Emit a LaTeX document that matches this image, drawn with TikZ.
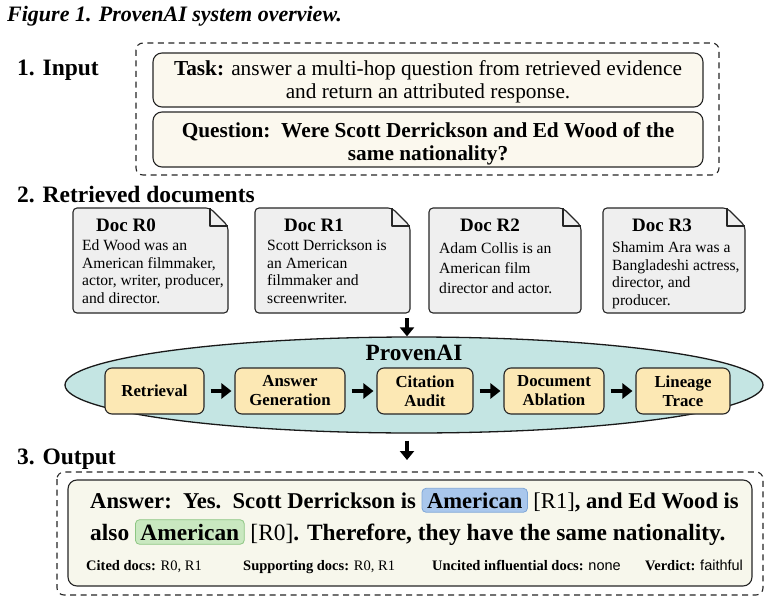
\documentclass[tikz,border=0pt]{standalone}
\usepackage{fontspec}
\setmainfont{Liberation Serif}
\newfontfamily\sansf{Liberation Sans}
\usetikzlibrary{shapes.geometric,arrows.meta}
\definecolor{creamA}{HTML}{FBF8EE}
\definecolor{docgray}{HTML}{EFEFEF}
\definecolor{ellfill}{HTML}{C4E5E3}
\definecolor{stageY}{HTML}{FCE8B4}
\definecolor{ansfill}{HTML}{F7F7EC}
\definecolor{hlbluefill}{HTML}{A9C7EC}
\definecolor{hlbluedraw}{HTML}{7FA7D8}
\definecolor{hlgreenfill}{HTML}{C9E8C0}
\definecolor{hlgreendraw}{HTML}{8DC683}
\newcommand\mydocshape[2]{%
  \draw[docsty] (#1,208) -- (#2-18,208) -- (#2,226) -- (#2,313) -- (#1,313) -- cycle;
  \draw[line width=1.1pt, black!85, line join=round] (#2-18,208) -- (#2-18,226) -- (#2,226);}
\begin{document}
\begin{tikzpicture}[x=1pt,y=-1pt,
  dashbox/.style={draw=black!85, line width=1.1pt, dash pattern=on 6pt off 4.5pt, rounded corners=7pt},
  inbox/.style={draw=black!85, line width=1.1pt, rounded corners=9pt, fill=creamA, inner sep=0pt},
  docsty/.style={draw=black!85, line width=1.1pt, fill=docgray, rounded corners=4pt},
  doctitle/.style={font=\bfseries\fontsize{19}{22}\selectfont, inner sep=0pt, anchor=base},
  doctext/.style={anchor=north west, inner sep=0pt, align=left, font=\fontsize{15.6}{17.7}\selectfont},
  stagebox/.style={draw=black!85, line width=1.1pt, rounded corners=7pt, fill=stageY, minimum height=46pt, inner sep=0pt, align=center, font=\bfseries\fontsize{16.8}{19}\selectfont},
  bigarrow/.style={-{Triangle[length=10pt,width=15pt]}, line width=4.5pt},
  heading/.style={anchor=base west, inner sep=0pt, font=\bfseries\fontsize{23.5}{26}\selectfont},
  bigtxt/.style={anchor=base, inner sep=0pt, font=\fontsize{21.3}{24}\selectfont},
  anstxt/.style={anchor=base west, inner sep=0pt, font=\bfseries\fontsize{22.6}{26}\selectfont},
  meta/.style={anchor=base west, inner sep=0pt, font=\fontsize{14.5}{17}\selectfont},
  hlblue/.style={fill=hlbluefill, draw=hlbluedraw, line width=0.8pt, rounded corners=4pt, inner xsep=5pt, inner ysep=4pt},
  hlgreen/.style={fill=hlgreenfill, draw=hlgreendraw, line width=0.8pt, rounded corners=4pt, inner xsep=5pt, inner ysep=4pt},
]
\useasboundingbox (0,0) rectangle (771,602);
\fill[white] (0,0) rectangle (771,602);

% title
\node[anchor=base west, inner sep=0pt, font=\bfseries\itshape\fontsize{22}{26}\selectfont] (title) at (7,22) {Figure 1. ProvenAI system overview.};

% 1. Input
\node[heading] (h1) at (17,75) {1. Input};
\draw[dashbox] (136,43) rectangle (719,175);
\node[inbox, minimum width=550pt, minimum height=54pt] (taskbox) at (428,80) {};
\node[bigtxt] (task1) at (428,75) {\textbf{Task:} answer a multi-hop question from retrieved evidence};
\node[bigtxt] (task2) at (428,98) {and return an attributed response.};
\node[inbox, minimum width=550pt, minimum height=55pt] (qbox) at (428,139.5) {};
\node[bigtxt, font=\bfseries\fontsize{21.3}{24}\selectfont] (q1) at (428,137) {Question:\ \ Were Scott Derrickson and Ed Wood of the};
\node[bigtxt, font=\bfseries\fontsize{21.3}{24}\selectfont] (q2) at (428,160) {same nationality?};

% 2. Retrieved documents
\node[heading] (h2) at (17,202) {2. Retrieved documents};
\mydocshape{73}{228}
\mydocshape{255}{410}
\mydocshape{429}{581}
\mydocshape{603}{745}
\node[doctitle] (t0) at (126,231) {Doc R0};
\node[doctitle] (t1) at (314,231) {Doc R1};
\node[doctitle] (t2) at (490,231) {Doc R2};
\node[doctitle] (t3) at (662,231) {Doc R3};
\node[doctext] (d0) at (82,239.5) {Ed Wood was an\\American filmmaker,\\actor, writer, producer,\\and director.};
\node[doctext] (d1) at (267,239.5) {Scott Derrickson is\\an American\\filmmaker and\\screenwriter.};
\node[doctext, font=\fontsize{15.6}{20}\selectfont] (d2) at (439,242.5) {Adam Collis is an\\American film\\director and actor.};
\node[doctext] (d3) at (612,241.5) {Shamim Ara was a\\Bangladeshi actress,\\director, and\\producer.};

% ProvenAI
\node[ellipse, draw=black!90, line width=1.3pt, fill=ellfill, minimum width=698pt, minimum height=96pt, inner sep=0pt] (ell) at (414,385) {};
\node[anchor=base, inner sep=0pt, font=\bfseries\fontsize{23.3}{26}\selectfont] (pai) at (414,360) {ProvenAI};
\coordinate (docsout) at (407,318);
\draw[bigarrow, -{Triangle[length=9pt,width=14pt]}, line width=3.5pt] (docsout) -- (docsout |- ell.north);

\node[stagebox, minimum width=99pt] (ret) at (154.5,391) {Retrieval};
\node[stagebox, minimum width=110pt] (gen) at (290,391) {Answer\\Generation};
\node[stagebox, minimum width=96pt] (cit) at (425,391) {Citation\\Audit};
\node[stagebox, minimum width=100pt] (abl) at (554,391) {Document\\Ablation};
\node[stagebox, minimum width=94pt] (lin) at (683,391) {Lineage\\Trace};
\draw[bigarrow, shorten <=6pt, shorten >=3pt] (ret) -- (gen);
\draw[bigarrow, shorten <=6pt, shorten >=3pt] (gen) -- (cit);
\draw[bigarrow, shorten <=6pt, shorten >=3pt] (cit) -- (abl);
\draw[bigarrow, shorten <=6pt, shorten >=3pt] (abl) -- (lin);

% 3. Output
\node[heading] (h3) at (17,464) {3. Output};
\coordinate (outtip) at (407,460);
\draw[bigarrow, -{Triangle[length=9pt,width=14pt]}, line width=3.5pt] (outtip |- ell.south) ++(0,7) coordinate (outstart) (outstart) -- (outtip);
\draw[dashbox] (57,472) rectangle (763,595);
\node[draw=black!85, line width=1.1pt, rounded corners=9pt, fill=ansfill, minimum width=684pt, minimum height=106pt, inner sep=0pt] (ansbox) at (410,533) {};
\node[anstxt] (a1) at (90,508) {Answer:\ \ Yes.\ \ Scott Derrickson is \tikz[baseline=(hlA.base)]\node[hlblue](hlA){American}; \textmd{[R1]}, and Ed Wood is};
\node[anstxt, font=\bfseries\fontsize{23.4}{26}\selectfont] (a2) at (90,540) {also \tikz[baseline=(hlB.base)]\node[hlgreen](hlB){American}; \textmd{[R0]}. Therefore, they have the same nationality.};
\node[meta] (m1) at (86,570) {\textbf{Cited docs:} R0, R1};
\node[meta] (m2) at (243,570) {\textbf{Supporting docs:} R0, R1};
\node[meta] (m3) at (432,570) {\textbf{Uncited influential docs:} {\sansf none}};
\node[meta] (m4) at (645,570) {\textbf{Verdict:} {\sansf faithful}};
\end{tikzpicture}
\end{document}
